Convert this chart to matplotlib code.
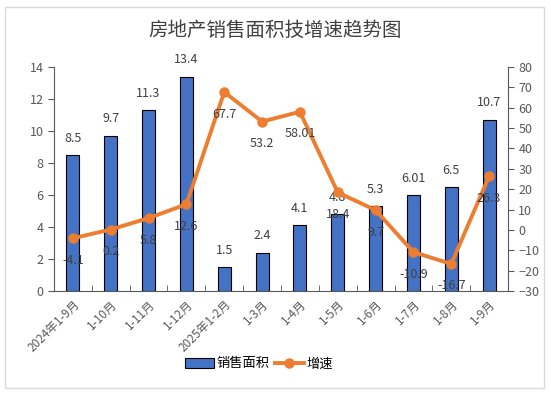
import matplotlib.pyplot as plt
import numpy as np
from matplotlib.patches import Rectangle

plt.rcParams['font.family'] = ['Noto Sans CJK SC', 'DejaVu Sans']

months = ["2024年1-9月", "1-10月", "1-11月", "1-12月", "2025年1-2月", "1-3月",
          "1-4月", "1-5月", "1-6月", "1-7月", "1-8月", "1-9月"]
area = [8.5, 9.7, 11.3, 13.4, 1.5, 2.4, 4.1, 4.8, 5.3, 6.01, 6.5, 10.7]
area_labels = ["8.5", "9.7", "11.3", "13.4", "1.5", "2.4", "4.1", "4.8", "5.3", "6.01", "6.5", "10.7"]
growth = [-4.1, 0.2, 5.8, 12.6, 67.7, 53.2, 58.01, 18.4, 9.7, -10.9, -16.7, 26.3]
growth_labels = ["-4.1", "0.2", "5.8", "12.6", "67.7", "53.2", "58.01", "18.4", "9.7", "-10.9", "-16.7", "26.3"]

txt = '#404040'
tick_c = '#595959'
x = np.arange(len(months))

fig = plt.figure(figsize=(5.51, 3.96), dpi=100)
fig.patches.append(Rectangle((5/551, 8/396), 539/551, 381/396, transform=fig.transFigure,
                             fill=False, edgecolor='#d9d9d9', linewidth=1))

ax = fig.add_axes([54/551, 1 - 291/396, 454/551, 224/396])
ax2 = ax.twinx()

bars = ax.bar(x, area, width=0.34, color='#4472C4', edgecolor='black', linewidth=0.8,
              label='销售面积', zorder=2)
ax.set_ylim(0, 14)
ax.set_xlim(-0.5, len(months) - 0.5)
ax.set_yticks(range(0, 15, 2))
for xi, v, s in zip(x, area, area_labels):
    ax.text(xi, v + 1.05, s, ha='center', va='center', fontsize=9, color=txt)

ln, = ax2.plot(x, growth, color='#ED7D31', linewidth=2.8, marker='o', markersize=6.5,
               label='增速', zorder=3)
ax2.set_ylim(-30, 80)
ax2.set_yticks(range(-30, 81, 10))
for xi, v, s in zip(x, growth, growth_labels):
    ax2.text(xi, v - 10.8, s, ha='center', va='center', fontsize=9, color=txt, zorder=4)

ax.set_xticks(x)
ax.set_xticklabels(months, rotation=45, ha='right', rotation_mode='anchor', fontsize=8.5, color=tick_c)
ax.set_xticks(np.arange(-0.5, len(months), 1), minor=True)
ax.tick_params(axis='x', which='major', length=0, pad=5)
ax.tick_params(axis='x', which='minor', length=4, direction='in', color='#595959')
ax.tick_params(axis='y', labelsize=9, labelcolor=tick_c, color='#595959', length=4)
ax2.tick_params(axis='y', labelsize=9, labelcolor=tick_c, color='#595959', length=4)

for a in (ax, ax2):
    a.spines['top'].set_visible(False)
    for s in ('left', 'right', 'bottom'):
        a.spines[s].set_color('#595959')
ax.spines['right'].set_visible(False)
ax2.spines['left'].set_visible(False)
ax2.spines['bottom'].set_visible(False)

fig.text(0.5, 1 - 30/396, "房地产销售面积技增速趋势图", ha='center', va='center', fontsize=14, color=txt)
fig.legend([bars, ln], ['销售面积', '增速'], loc='center', bbox_to_anchor=(0.47, 1 - 364/396),
           ncol=2, frameon=False, fontsize=9.5, handlelength=2.2, handleheight=0.8,
           columnspacing=0.4, handletextpad=0.2)

fig.savefig("out.png", dpi=100)
